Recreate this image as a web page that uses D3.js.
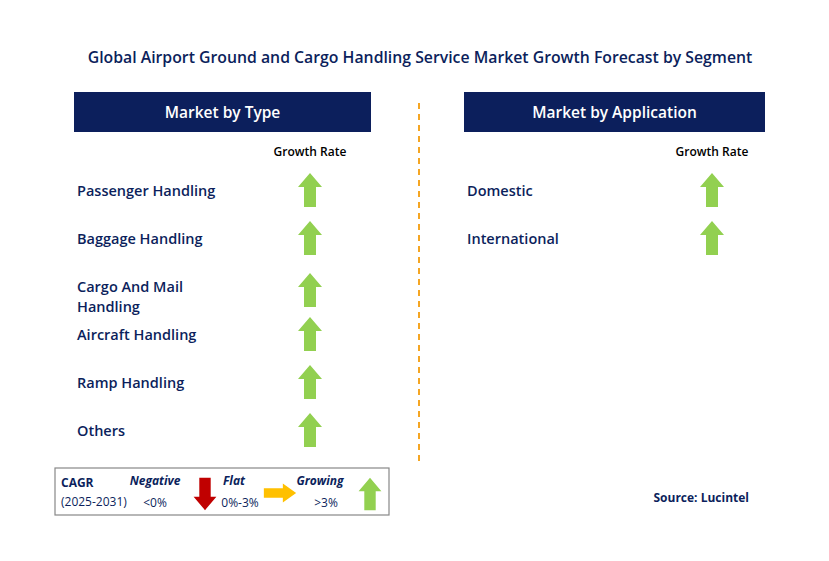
<!DOCTYPE html>
<html><head><meta charset="utf-8">
<script src="https://cdn.jsdelivr.net/npm/d3@7"></script>
<style>body{margin:0;background:#fff}svg{font-family:"Open Sans",Arial,sans-serif}</style>
</head><body><svg id="c" width="829" height="561"></svg>
<script>
// segments and growth direction
const typeSegments = ['Passenger Handling','Baggage Handling','Cargo And Mail\nHandling','Aircraft Handling','Ramp Handling','Others'];
const typeGrowth = ['up','up','up','up','up','up'];
const appSegments = ['Domestic','International'];
const appGrowth = ['up','up'];
const legendItems = [
  {label:'Negative', range:'<0%', dir:'down'},
  {label:'Flat', range:'0%-3%', dir:'right'},
  {label:'Growing', range:'>3%', dir:'up'}
];

const svg = d3.select('#c');
const navy = '#0c1f5c', green = '#92d050';

svg.append('text').attr('x', 420).attr('y', 63).attr('text-anchor','middle')
  .attr('font-size', 15.8).attr('font-weight', 600).attr('fill', navy)
  .text('Global Airport Ground and Cargo Handling Service Market Growth Forecast by Segment');

// arrow shapes, centred on 0,0
const arrows = {
  up: 'M0,-17 L12,-3 L6,-3 L6,17 L-6,17 L-6,-3 L-12,-3 Z',
  down: 'M0,17 L12,3 L6,3 L6,-17 L-6,-17 L-6,3 L-12,3 Z',
  right: 'M17,0 L3,-12 L3,-6 L-17,-6 L-17,6 L3,6 L3,12 Z'
};
const arrowColor = {up: green, down: '#c00000', right: '#ffc000'};

function panel(x0, width, title, segs, growth, ax) {
  svg.append('rect').attr('x', x0).attr('y', 92).attr('width', width).attr('height', 40).attr('fill', navy);
  svg.append('text').attr('x', x0 + width/2).attr('y', 118).attr('text-anchor','middle')
    .attr('fill','#fff').attr('font-size', 15.5).attr('font-weight', 600).text(title);
  svg.append('text').attr('x', ax).attr('y', 156).attr('text-anchor','middle')
    .attr('font-size', 12).attr('font-weight', 600).attr('fill','#000').text('Growth Rate');
  const y = d3.scalePoint().domain(d3.range(6)).range([190, 430]);
  const g = svg.append('g').selectAll('g').data(segs).join('g')
    .attr('transform', (d,i) => `translate(0,${y(i)})`);
  g.append('text').attr('font-size', 14.5).attr('font-weight', 600).attr('fill', navy)
    .selectAll('tspan').data(d => d.split('\n')).join('tspan')
    .attr('x', x0 + 3).attr('y', (d,i) => 6 + i * 20).text(d => d);
  g.append('path').attr('transform', d => `translate(${ax},${d.includes('\n') ? 4 : 0})`)
    .attr('d', (d,i) => arrows[growth[i]]).attr('fill', (d,i) => arrowColor[growth[i]]);
}
panel(74, 297, 'Market by Type', typeSegments, typeGrowth, 310);
panel(464, 301, 'Market by Application', appSegments, appGrowth, 712);

svg.append('line').attr('x1', 419).attr('x2', 419).attr('y1', 103).attr('y2', 462)
  .attr('stroke', '#f5a623').attr('stroke-width', 2).attr('stroke-dasharray', '6,5');

// legend
const lg = svg.append('g');
lg.append('rect').attr('x', 55).attr('y', 468).attr('width', 334).attr('height', 47)
  .attr('fill','#fff').attr('stroke','#888').attr('stroke-width', 1.2);
lg.append('text').attr('x', 61).attr('y', 487).attr('font-size', 12).attr('font-weight', 700).attr('fill', navy).text('CAGR');
lg.append('text').attr('x', 61).attr('y', 506).attr('font-size', 12).attr('fill', navy).text('(2025-2031)');
const lx = d3.scaleOrdinal().domain(legendItems.map(d => d.label)).range([155, 234, 320]);
const li = lg.selectAll('g').data(legendItems).join('g');
li.append('text').attr('x', d => lx(d.label)).attr('y', 485).attr('text-anchor','middle')
  .attr('font-size', 12).attr('font-weight', 700).attr('font-style','italic').attr('fill', navy).text(d => d.label);
li.append('text').attr('x', d => lx(d.label) + (d.dir === 'down' ? 0 : 6)).attr('y', 507).attr('text-anchor','middle')
  .attr('font-size', 12).attr('fill', navy).text(d => d.range);
li.append('path').attr('transform', d => d.dir === 'right' ? `translate(${lx(d.label)+46},493) scale(0.95,0.8)` : `translate(${lx(d.label)+50},494) scale(0.95)`)
  .attr('d', d => arrows[d.dir]).attr('fill', d => arrowColor[d.dir]);

svg.append('text').attr('x', 749).attr('y', 502).attr('text-anchor','end')
  .attr('font-size', 12).attr('font-weight', 700).attr('fill', navy).text('Source: Lucintel');
</script></body></html>
